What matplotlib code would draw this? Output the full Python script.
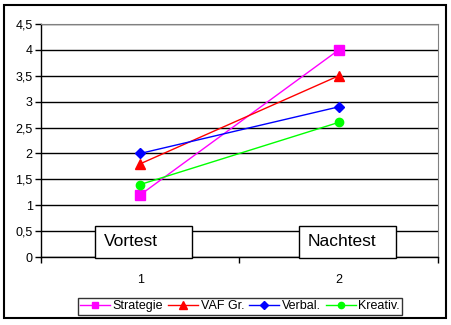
import matplotlib.pyplot as plt
from matplotlib.patches import Rectangle
from matplotlib.ticker import FixedLocator, FuncFormatter

plt.rcParams["font.family"] = ["Liberation Sans", "DejaVu Sans"]

tests = [1, 2]
series_names = ["Strategie", "VAF Gr.", "Verbal.", "Kreativ."]
strategie = [1.2, 4.0]
vaf = [1.8, 3.5]
verbal = [2.0, 2.9]
kreativ = [1.4, 2.6]
phase_labels = ["Vortest", "Nachtest"]

colors = ["#FF00FF", "#FF0000", "#0000FF", "#00FF00"]
markers = ["s", "^", "D", "o"]
sizes = [6.5, 7, 5, 6]

W, H = 452, 325
fig = plt.figure(figsize=(W / 100, H / 100), dpi=100)
ax = fig.add_axes([41 / W, 1 - 257 / H, 397 / W, 233 / H])

for vals, name, c, m, s in zip([strategie, vaf, verbal, kreativ], series_names, colors, markers, sizes):
    ax.plot(tests, vals, color=c, lw=1, marker=m, markersize=s, markeredgecolor=c,
            markerfacecolor=c, label=name, zorder=3)

ax.set_xlim(0.5, 2.5)
ax.set_ylim(0, 4.5)
ax.set_yticks([i * 0.5 for i in range(10)])
ax.yaxis.set_major_formatter(FuncFormatter(lambda v, _: f"{v:g}".replace(".", ",")))
ax.yaxis.grid(True, color="black", lw=1)
ax.set_axisbelow(True)
ax.set_xticks(tests)
ax.xaxis.set_minor_locator(FixedLocator([0.5, 1.5, 2.5]))
ax.tick_params(axis="x", which="major", length=0, pad=12, labelsize=9)
ax.tick_params(axis="x", which="minor", length=4, direction="out", width=1)
ax.tick_params(axis="y", length=4, direction="out", width=1, labelsize=9, pad=2)
for side in ("top", "right"):
    ax.spines[side].set_color("#808080")
ax.spines["left"].set_linewidth(1)
ax.spines["bottom"].set_linewidth(1)

# phase labels in boxes over the bottom of the plot
for x0, label in zip([95, 299], phase_labels):
    fig.patches.append(Rectangle((x0 / W, 1 - 258 / H), 97 / W, 32 / H, transform=fig.transFigure,
                                 facecolor="white", edgecolor="black", lw=1, zorder=5))
    fig.text((x0 + 9) / W, 1 - 241 / H, label, fontsize=12.5, ha="left", va="center", zorder=6)

leg = fig.legend(loc="center", bbox_to_anchor=(240 / W, 1 - 306 / H), ncol=4, fontsize=9,
                 frameon=True, fancybox=False, edgecolor="black", handlelength=2.4,
                 handletextpad=0.2, columnspacing=0.4, borderpad=0.2, markerscale=0.75)
leg.get_frame().set_linewidth(1)

fig.patches.append(Rectangle((4 / W, 1 - 318 / H), 442 / W, 313 / H, transform=fig.transFigure,
                             facecolor="none", edgecolor="black", lw=1.5))

fig.savefig("out.png", dpi=100)
